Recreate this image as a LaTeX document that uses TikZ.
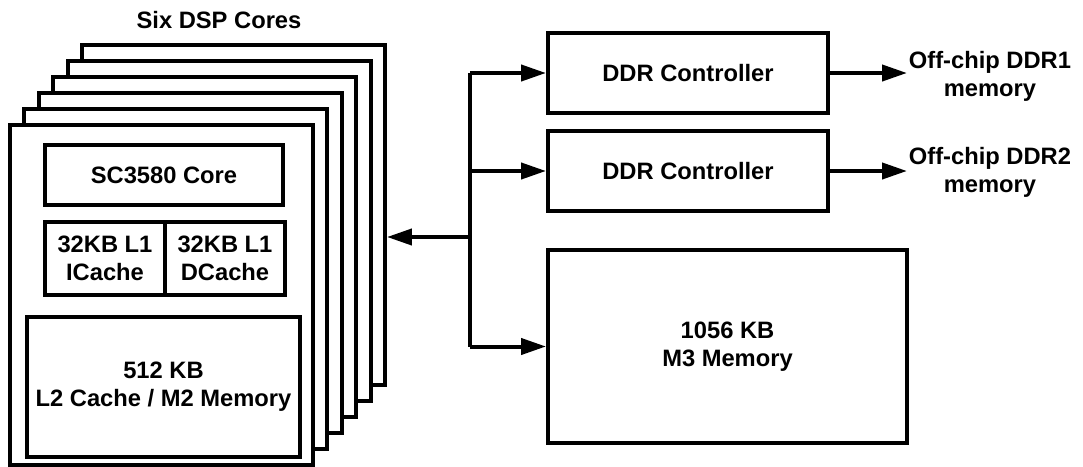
\documentclass[tikz,border=0pt]{standalone}
\usepackage{fontspec}
\setmainfont{Liberation Sans}
\usepackage{tikz}
\usetikzlibrary{arrows.meta}

\begin{document}
\begin{tikzpicture}[x=0.02cm,y=-0.02cm,
	>={Triangle[length=0.5cm,width=0.32cm]},
	every node/.style={font=\fontsize{13.5}{16}\selectfont\bfseries,align=center},
	blk/.style={draw,line width=0.08cm,inner sep=0pt},
	corebox/.style={blk,fill=white,minimum width=6.06cm,minimum height=6.8cm},
	wire/.style={line width=0.08cm}]
	\useasboundingbox (0,0) rectangle (1083,467);
	\foreach \i in {5,...,0}
		\node[corebox] (core\i) at ({161.5+14.4*\i},{295-16*\i}) {};
	\node at (219,20) (six) {Six DSP Cores};
	\node[blk,minimum width=4.76cm,minimum height=1.2cm] (sc) at (164,175) {SC3580 Core};
	\node[blk,minimum width=2.4cm,minimum height=1.46cm] (icache) at (105,258.5) {32KB L1\\ICache};
	\node[blk,minimum width=2.4cm,minimum height=1.46cm] (dcache) at (225,258.5) {32KB L1\\DCache};
	\node[blk,minimum width=5.46cm,minimum height=2.8cm] (ltwo) at (163.5,387) {512 KB\\L2 Cache / M2 Memory};
	\node[blk,minimum width=5.6cm,minimum height=1.6cm] (ddra) at (688,73) {DDR Controller};
	\node[blk,minimum width=5.6cm,minimum height=1.6cm] (ddrb) at (688,171) {DDR Controller};
	\node[blk,minimum width=7.18cm,minimum height=3.86cm] (mthree) at (727.5,346.5) {1056 KB\\M3 Memory};
	\node (offa) at (990,76) {Off-chip DDR1\\memory};
	\node (offb) at (990,172) {Off-chip DDR2\\memory};
	\coordinate (hub) at (470,237);
	\coordinate (enda) at (907,73);
	\coordinate (endb) at (907,171);
	\draw[wire] (hub |- ddra.west) -- (hub |- mthree.west);
	\draw[wire,->] (hub) -- (hub -| core5.east);
	\draw[wire,->] (hub |- ddra.west) -- (ddra.west);
	\draw[wire,->] (hub |- ddrb.west) -- (ddrb.west);
	\draw[wire,->] (hub |- mthree.west) -- (mthree.west);
	\draw[wire,->] (ddra.east) -- (enda);
	\draw[wire,->] (ddrb.east) -- (endb);
\end{tikzpicture}
\end{document}
